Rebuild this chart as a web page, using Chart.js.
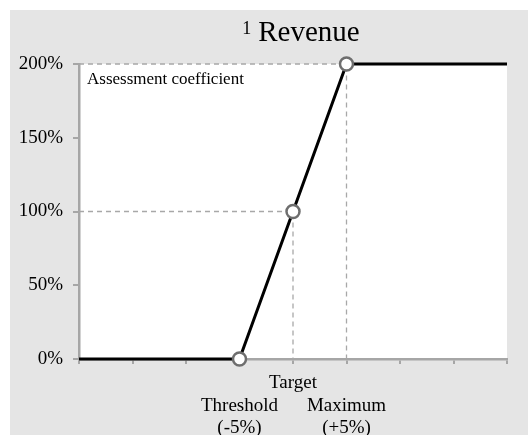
<!DOCTYPE html>
<html>
<head>
<meta charset="utf-8">
<script src="https://cdn.jsdelivr.net/npm/chart.js@4.4.0/dist/chart.umd.min.js"></script>
<style>
    html, body { margin: 0; padding: 0; background: #ffffff; }
    #wrap { width: 528px; height: 435px; }
</style>
</head>
<body>
<div id="wrap"><canvas id="myChart" width="528" height="435"></canvas></div>
<script>
// Revenue (x position on the axis) and the assessment coefficient (%)
const revenuePoints = [0, 3, 4, 5, 8];
const coefficientValues = [0, 0, 100, 200, 200];
const markedPoints = [1, 2, 3]; // threshold, target, maximum
const xTickValues = [0, 1, 2, 3, 4, 5, 6, 7, 8];
const xTickLabels = {
    3: ['', 'Threshold', '(-5%)'],
    4: ['Target'],
    5: ['', 'Maximum', '(+5%)'],
};
const yTicks = [0, 50, 100, 150, 200];

const serif = "'Liberation Serif', 'Times New Roman', serif";

// Dashed guide lines from the y axis to the target and maximum points, then down to the x axis
const guideFor = (i) => [
    { x: revenuePoints[0], y: coefficientValues[i] },
    { x: revenuePoints[i], y: coefficientValues[i] },
    { x: revenuePoints[i], y: 0 },
];

const backgroundPlugin = {
    id: 'background',
    beforeDraw(chart) {
        const { ctx, chartArea } = chart;
        ctx.save();
        ctx.fillStyle = '#ffffff';
        ctx.fillRect(0, 0, chart.width, chart.height);
        ctx.fillStyle = '#e5e5e5';
        ctx.fillRect(10, 10, chart.width - 10, chart.height - 10);
        ctx.fillStyle = '#ffffff';
        ctx.fillRect(chartArea.left, chartArea.top, chartArea.right - chartArea.left, chartArea.bottom - chartArea.top);
        ctx.restore();
    },
    afterDraw(chart) {
        const { ctx, chartArea } = chart;
        ctx.save();
        ctx.fillStyle = '#000000';
        ctx.textBaseline = 'alphabetic';

        // title with superscript note mark
        ctx.font = '29px ' + serif;
        const main = 'Revenue';
        const mainW = ctx.measureText(main).width;
        ctx.font = '18px ' + serif;
        const sup = '1';
        const supW = ctx.measureText(sup).width;
        const gap = 7;
        const total = supW + gap + mainW;
        const cx = (chartArea.left + chartArea.right) / 2 + 8;
        const x0 = cx - total / 2;
        ctx.fillText(sup, x0, 34);
        ctx.font = '29px ' + serif;
        ctx.fillText(main, x0 + supW + gap, 41);

        // axis caption inside the plot
        ctx.font = '17px ' + serif;
        ctx.fillText('Assessment coefficient', chartArea.left + 8, chartArea.top + 20);
        ctx.restore();
    },
};

const ctx = document.getElementById('myChart').getContext('2d');
const myChart = new Chart(ctx, {
    type: 'line',
    data: {
        datasets: [
            {
                label: 'Assessment coefficient',
                data: revenuePoints.map((x, i) => ({ x: x, y: coefficientValues[i] })),
                borderColor: '#000000',
                borderWidth: 3,
                pointRadius: revenuePoints.map((x, i) => markedPoints.includes(i) ? 6.5 : 0),
                pointBackgroundColor: '#ffffff',
                pointBorderColor: '#6e6e6e',
                pointBorderWidth: 2.5,
                tension: 0,
                clip: false,
                order: 1,
            },
            {
                label: 'Maximum guide',
                data: guideFor(3),
                borderColor: '#a8a8a8',
                borderWidth: 1.3,
                borderDash: [5, 4],
                pointRadius: 0,
                clip: false,
                order: 2,
            },
            {
                label: 'Target guide',
                data: guideFor(2),
                borderColor: '#a8a8a8',
                borderWidth: 1.3,
                borderDash: [5, 4],
                pointRadius: 0,
                clip: false,
                order: 2,
            },
        ],
    },
    options: {
        responsive: false,
        animation: false,
        events: [],
        layout: {
            padding: { left: 0, top: 64, right: 21, bottom: 0 },
        },
        plugins: {
            legend: { display: false },
            title: { display: false },
            tooltip: { enabled: false },
        },
        scales: {
            x: {
                type: 'linear',
                min: revenuePoints[0],
                max: revenuePoints[revenuePoints.length - 1],
                afterFit: (scale) => { scale.height = 76; },
                afterBuildTicks: (scale) => {
                    scale.ticks = xTickValues.map(v => ({ value: v }));
                },
                border: { color: '#a6a6a6', width: 2.5 },
                grid: {
                    drawOnChartArea: false,
                    drawTicks: true,
                    tickLength: 5,
                    color: '#a6a6a6',
                    lineWidth: 2,
                },
                ticks: {
                    autoSkip: false,
                    maxRotation: 0,
                    padding: 8,
                    color: '#000000',
                    font: { family: serif, size: 19, lineHeight: 1.18 },
                    callback: (value) => xTickLabels[value] || '',
                },
            },
            y: {
                min: yTicks[0],
                max: yTicks[yTicks.length - 1],
                afterFit: (scale) => { scale.width = 79; },
                afterBuildTicks: (scale) => {
                    scale.ticks = yTicks.map(v => ({ value: v }));
                },
                border: { color: '#a6a6a6', width: 2.5 },
                grid: {
                    drawOnChartArea: false,
                    drawTicks: true,
                    tickLength: 6,
                    color: '#a6a6a6',
                    lineWidth: 2,
                },
                ticks: {
                    padding: 10,
                    color: '#000000',
                    font: { family: serif, size: 19 },
                    callback: (value) => value + '%',
                },
            },
        },
    },
    plugins: [backgroundPlugin],
});
</script>
</body>
</html>
